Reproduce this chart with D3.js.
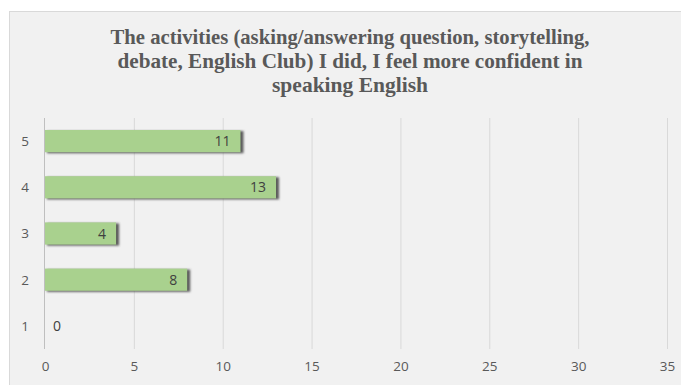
<!DOCTYPE html>
<html><head><meta charset="utf-8">
<script src="https://cdn.jsdelivr.net/npm/d3@7"></script>
<style>html,body{margin:0;padding:0;background:#fff;}</style>
</head><body>
<svg id="chart" width="681" height="385"></svg>
<script>
const categories = ["5", "4", "3", "2", "1"];
const values = [11, 13, 4, 8, 0];
const xTicks = [0, 5, 10, 15, 20, 25, 30, 35];
const titleLines = [
  "The activities (asking/answering question, storytelling,",
  "debate, English Club) I did, I feel more confident in",
  "speaking English"
];

const svg = d3.select("#chart");
const W = 681, H = 385;
const frame = {x: 9.5, y: 11.5};
const plot = {left: 45, right: 667, top: 118, bottom: 349};

const defs = svg.append("defs");
const f = defs.append("filter").attr("id", "shadow").attr("x", "-10%").attr("y", "-30%").attr("width", "130%").attr("height", "160%");
f.append("feGaussianBlur").attr("stdDeviation", 1.2);

svg.append("rect").attr("x", frame.x).attr("y", frame.y)
  .attr("width", W - frame.x + 5).attr("height", H - frame.y + 5)
  .attr("fill", "#f1f1f1").attr("stroke", "#d9d9d9").attr("stroke-width", 1);

// Title
const titleWidths = [479, 465, 156];
const title = svg.append("g");
titleLines.forEach((t, i) => {
  title.append("text")
    .attr("x", 350).attr("y", 44 + i * 24)
    .attr("text-anchor", "middle")
    .attr("font-family", "'Liberation Serif', 'Times New Roman', serif")
    .attr("font-weight", "bold").attr("font-size", 21.5)
    .attr("fill", "#595959")
    .attr("textLength", titleWidths[i]).attr("lengthAdjust", "spacingAndGlyphs")
    .text(t);
});

const x = d3.scaleLinear().domain([0, 35]).range([plot.left, plot.right]);
const y = d3.scaleBand().domain(categories).range([plot.top, plot.bottom]).paddingInner(0.52).paddingOuter(0.26);

// Gridlines
svg.append("g").selectAll("line").data(xTicks.slice(1)).join("line")
  .attr("x1", d => x(d) + 0.5).attr("x2", d => x(d) + 0.5)
  .attr("y1", plot.top).attr("y2", plot.bottom)
  .attr("stroke", "#d9d9d9").attr("stroke-width", 1);

// Axis at 0
svg.append("line").attr("x1", x(0) - 0.5).attr("x2", x(0) - 0.5)
  .attr("y1", plot.top).attr("y2", plot.bottom)
  .attr("stroke", "#bfbfbf").attr("stroke-width", 1);

const data = categories.map((c, i) => ({c, v: values[i]}));

// Bar shadows
svg.append("g").selectAll("rect").data(data.filter(d => d.v > 0)).join("rect")
  .attr("x", d => x(0) + 2).attr("y", d => y(d.c) + 1)
  .attr("width", d => x(d.v) - x(0) + 1).attr("height", y.bandwidth())
  .attr("fill", "#5a5a5a").attr("filter", "url(#shadow)");

// Bars
svg.append("g").selectAll("rect").data(data).join("rect")
  .attr("x", x(0)).attr("y", d => y(d.c))
  .attr("width", d => x(d.v) - x(0)).attr("height", y.bandwidth())
  .attr("fill", "#a9d18e");

// Bar labels
svg.append("g").selectAll("text").data(data).join("text")
  .attr("x", d => d.v > 0 ? x(d.v) - 10 : x(0) + 8)
  .attr("y", d => y(d.c) + y.bandwidth() / 2 + 5)
  .attr("text-anchor", d => d.v > 0 ? "end" : "start")
  .attr("font-family", "'Open Sans', 'Liberation Sans', sans-serif")
  .attr("font-size", 14).attr("fill", "#404040")
  .text(d => d.v);

// Y axis labels
const yAxis = d3.axisLeft(y).tickSize(0).tickPadding(16);
const yg = svg.append("g").attr("transform", `translate(${plot.left},0)`).call(yAxis);
yg.select(".domain").remove();
yg.selectAll("text").attr("font-family", "'Open Sans', 'Liberation Sans', sans-serif")
  .attr("font-size", 13.5).attr("fill", "#595959").attr("dy", "0.36em");

// X axis labels
const xAxis = d3.axisBottom(x).tickValues(xTicks).tickSize(0).tickPadding(12);
const xg = svg.append("g").attr("transform", `translate(0,${plot.bottom})`).call(xAxis);
xg.select(".domain").remove();
xg.selectAll("text").attr("font-family", "'Open Sans', 'Liberation Sans', sans-serif")
  .attr("font-size", 13.5).attr("fill", "#595959");
</script>
</body></html>
